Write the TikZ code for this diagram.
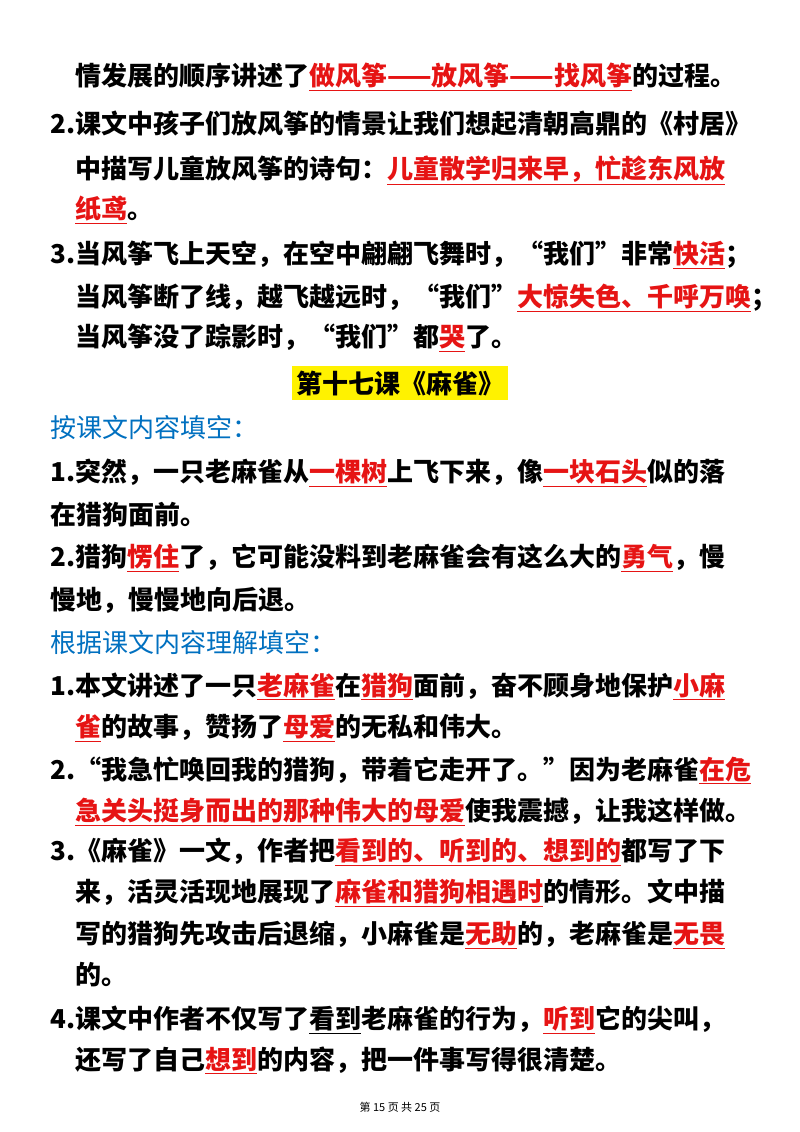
\documentclass[tikz,border=0pt]{standalone}
\usepackage{fontspec}
\newfontfamily\cjk{Noto Sans CJK SC}
\definecolor{ansred}{RGB}{230,20,20}
\definecolor{hdblue}{RGB}{0,112,192}
\newcommand{\ans}[1]{\textcolor{ansred}{\underline{#1}}}
\begin{document}
\begin{tikzpicture}[x=1pt,y=1pt,
  txt/.style={anchor=west,inner sep=0pt,font=\cjk\bfseries\fontsize{26}{26}\selectfont},
  hd/.style={txt,text=hdblue,font=\cjk\fontsize{26}{26}\selectfont}]
\useasboundingbox[fill=white] (0,0) rectangle (800,-1132);
\node[txt] (l1) at (75,-77) {情发展的顺序讲述了\ans{做风筝——放风筝——找风筝}的过程。};
\node[txt] (l2) at (50,-124) {2.课文中孩子们放风筝的情景让我们想起清朝高鼎的《村居》};
\node[txt] (l3) at (75,-170) {中描写儿童放风筝的诗句：\ans{儿童散学归来早，忙趁东风放}};
\node[txt] (l4) at (75,-210) {\ans{纸鸢}。};
\node[txt] (l5) at (50,-255) {3.当风筝飞上天空，在空中翩翩飞舞时，“我们”非常\ans{快活}；};
\node[txt] (l6) at (75,-298) {当风筝断了线，越飞越远时，“我们”\ans{大惊失色、千呼万唤}；};
\node[txt] (l7) at (75,-338) {当风筝没了踪影时，“我们”都\ans{哭}了。};
\node[fill=yellow,inner xsep=4pt,inner ysep=5pt,font=\cjk\bfseries\fontsize{26}{26}\selectfont] (title) at (400,-383) {第十七课《麻雀》};
\node[hd] (h1) at (50,-428) {按课文内容填空：};
\node[txt] (a1) at (50,-473) {1.突然，一只老麻雀从\ans{一棵树}上飞下来，像\ans{一块石头}似的落};
\node[txt] (a2) at (50,-515) {在猎狗面前。};
\node[txt] (a3) at (50,-558) {2.猎狗\ans{愣住}了，它可能没料到老麻雀会有这么大的\ans{勇气}，慢};
\node[txt] (a4) at (50,-600) {慢地，慢慢地向后退。};
\node[hd] (h2) at (50,-643) {根据课文内容理解填空：};
\node[txt] (b1) at (50,-686) {1.本文讲述了一只\ans{老麻雀}在\ans{猎狗}面前，奋不顾身地保护\ans{小麻}};
\node[txt] (b2) at (75,-728) {\ans{雀}的故事，赞扬了\ans{母爱}的无私和伟大。};
\node[txt] (b3) at (50,-770) {2.“我急忙唤回我的猎狗，带着它走开了。”因为老麻雀\ans{在危}};
\node[txt] (b4) at (75,-812) {\ans{急关头挺身而出的那种伟大的母爱}使我震撼，让我这样做。};
\node[txt] (b5) at (50,-852) {3.《麻雀》一文，作者把\ans{看到的、听到的、想到的}都写了下};
\node[txt] (b6) at (75,-893) {来，活灵活现地展现了\ans{麻雀和猎狗相遇时}的情形。文中描};
\node[txt] (b7) at (75,-935) {写的猎狗先攻击后退缩，小麻雀是\ans{无助}的，老麻雀是\ans{无畏}};
\node[txt] (b8) at (75,-975) {的。};
\node[txt] (b9) at (50,-1020) {4.课文中作者不仅写了\underline{看到}老麻雀的行为，\ans{听到}它的尖叫，};
\node[txt] (b10) at (75,-1060) {还写了自己\ans{想到}的内容，把一件事写得很清楚。};
\node[font=\cjk\fontsize{11}{11}\selectfont,inner sep=0pt] (foot) at (400,-1107) {第\ 15\ 页\ 共\ 25\ 页};
\end{tikzpicture}
\end{document}
